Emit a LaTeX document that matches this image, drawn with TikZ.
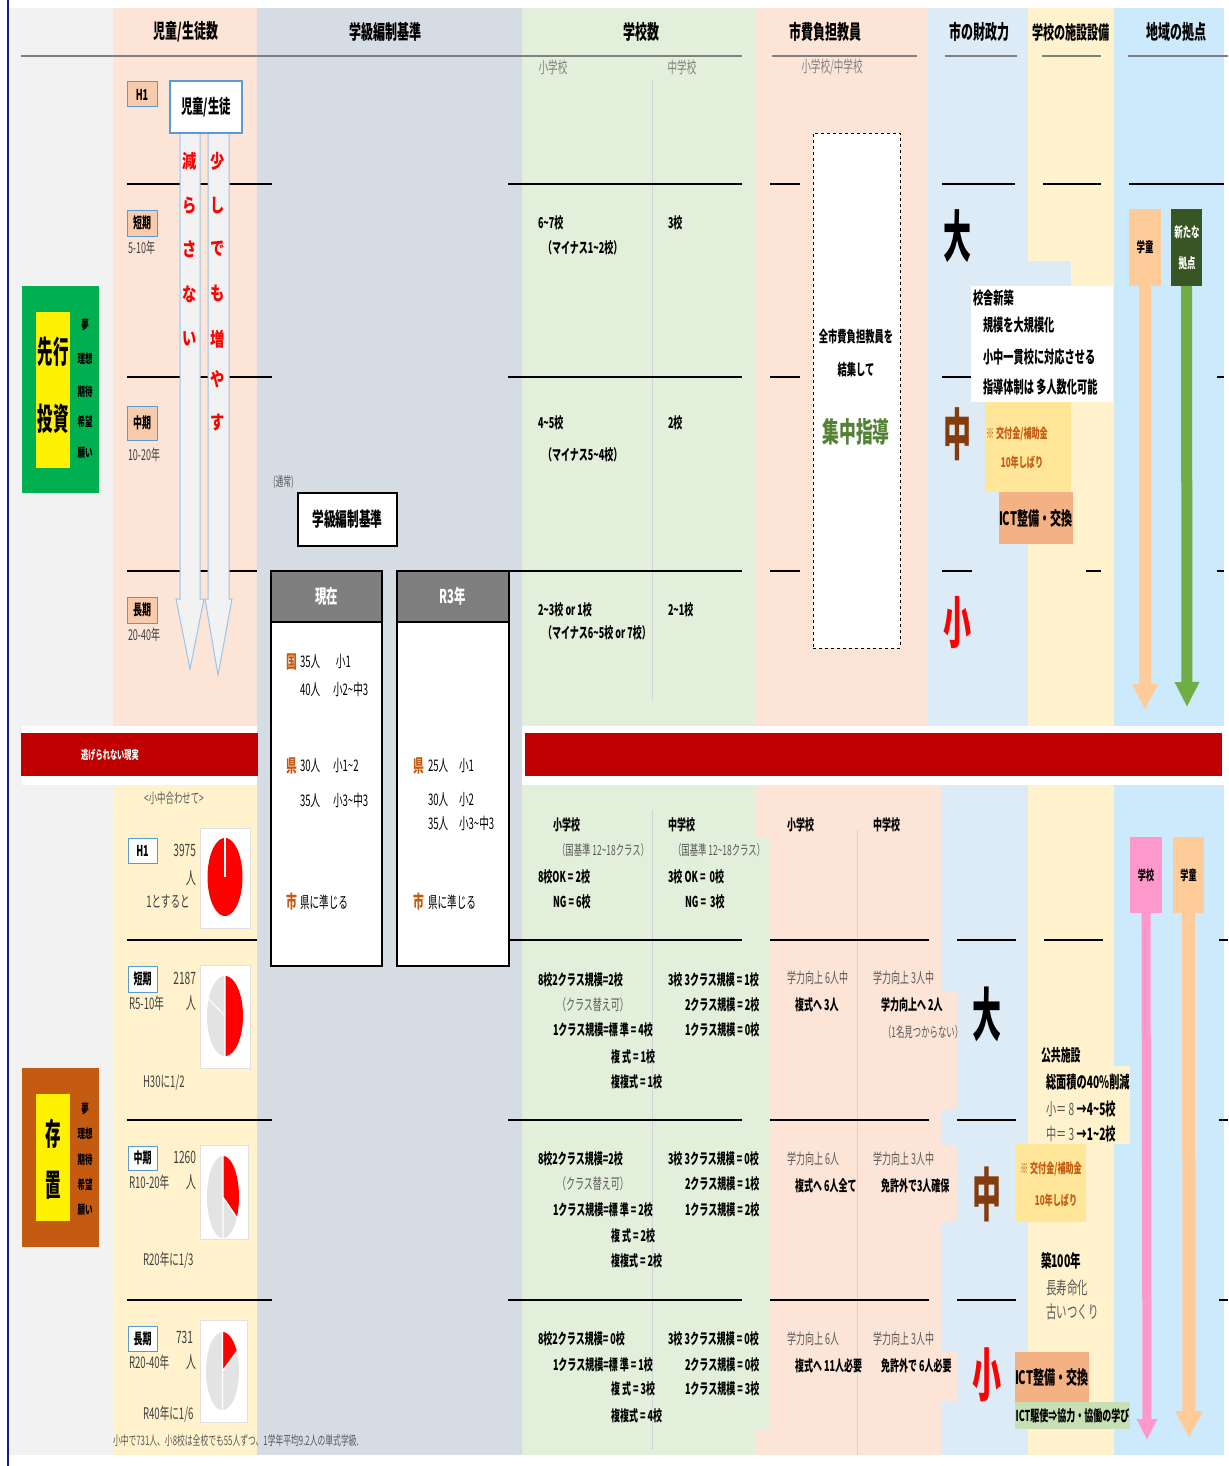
\documentclass[tikz,border=0pt]{standalone}
\usepackage{fontspec}
\setmainfont{Noto Sans CJK JP}[FakeStretch=0.6]
\newfontfamily\jpw{Noto Sans CJK JP}[FakeStretch=0.75]
\newfontfamily\jpn{Noto Sans CJK JP}[FakeStretch=0.5]
\usetikzlibrary{arrows.meta}
\newcommand\tld{\textasciitilde}
\definecolor{cgray}{HTML}{F2F2F2}
\definecolor{cpeach}{HTML}{FCE4D6}
\definecolor{cbg}{HTML}{D6DCE4}
\definecolor{cgreen}{HTML}{E2EFDA}
\definecolor{cblue}{HTML}{DDEBF7}
\definecolor{ccream}{HTML}{FFF2CC}
\definecolor{csky}{HTML}{CCEAFB}
\definecolor{cred}{HTML}{C00000}
\definecolor{cbrown}{HTML}{C55A11}
\definecolor{cdkbrown}{HTML}{843C0C}
\definecolor{cyel}{HTML}{FFE699}
\definecolor{cict}{HTML}{F4B183}
\definecolor{corange}{HTML}{FFCC99}
\definecolor{cdkgreen}{HTML}{375623}
\definecolor{cgrn}{HTML}{70AD47}
\definecolor{cbox}{HTML}{00B050}
\definecolor{cpink}{HTML}{FF99CC}
\definecolor{clgreen}{HTML}{C6E0B4}
\definecolor{clabel}{HTML}{F8CBAD}
\definecolor{cbord}{HTML}{5B9BD5}
\definecolor{carrowb}{HTML}{9DC3E6}
\definecolor{cshade}{HTML}{7F7F7F}
\definecolor{cpie}{HTML}{E3E3E3}
\definecolor{ctxt}{HTML}{595959}
\definecolor{cdark}{HTML}{404040}
\definecolor{csub}{HTML}{808080}
\definecolor{cjgreen}{HTML}{548235}
\definecolor{cline}{HTML}{808080}
\definecolor{cnavy}{HTML}{1A1A8C}
\definecolor{cvl}{HTML}{D0D4DA}
\newcommand\bx[7]{\node[#6,inner sep=0pt,outer sep=0pt,minimum width={#4-#2},minimum height={#5-#3},anchor=north west] (#1) at (#2,#3) {#7};}
\begin{document}
\begin{tikzpicture}[x=1pt,y=-1pt,
  xl/.style={anchor=west,inner sep=0pt,outer sep=0pt},
  xc/.style={anchor=center,inner sep=0pt,outer sep=0pt},
  xr/.style={anchor=east,inner sep=0pt,outer sep=0pt},
  fr/.style={font=\fontsize{#1}{#1}\selectfont},
  fb/.style={font=\fontsize{#1}{#1}\selectfont\bfseries},
  jw/.style={font=\jpw\fontsize{#1}{#1}\selectfont\bfseries},
  jn/.style={font=\jpn\fontsize{#1}{#1}\selectfont\bfseries},
  rowline/.style={line width=1.3pt,black},
  hdline/.style={line width=2.3pt,cline},
  lbl/.style={draw=cbord,line width=1pt,fill=clabel},
  lblw/.style={draw=cbord,line width=1pt,fill=white},
  piebox/.style={draw=black!12,line width=0.8pt,fill=white},
]
\useasboundingbox (0,0) rectangle (1228,1466);
% ---------- backgrounds ----------
\fill[cgray] (8,8) rectangle (113,1455);
\fill[cpeach] (113,8) rectangle (257,726);
\fill[ccream] (113,785) rectangle (257,1455);
\fill[cbg] (257,8) rectangle (522,1455);
\fill[cgreen] (522,8) rectangle (755,726);
\fill[cgreen] (522,785) rectangle (755,1455);
\fill[cpeach] (755,8) rectangle (928,726);
\fill[cpeach] (755,785) rectangle (942,1455);
\fill[cblue] (928,8) rectangle (1028,726);
\fill[cblue] (942,785) rectangle (1028,1455);
\fill[ccream] (1028,8) rectangle (1114,726);
\fill[ccream] (1028,785) rectangle (1114,1455);
\fill[csky] (1114,8) rectangle (1224,726);
\fill[csky] (1114,785) rectangle (1224,1455);
\fill[white] (22,726) rectangle (257,785);
\fill[cblue] (1028,261) rectangle (1071,286);
\fill[cgreen] (755,837) rectangle (769,1429);
\fill[cpeach] (900,991) rectangle (957,1109);
\fill[cpeach] (900,1146) rectangle (957,1221);
\fill[cpeach] (900,1352) rectangle (957,1402);
\draw[cnavy,line width=1.2pt] (8,0) -- (8,1466);
% red band
\bx{band1}{21}{733}{258}{776}{fill=cred}{}
\node[xc,fb=12,text=white] (band1t) at (110,755) {逃げられない現実};
\bx{band2}{525}{733}{1222}{776}{fill=cred}{}
% ---------- headers ----------
\node[xc,fb=20] (hd1) at (186,32) {児童/生徒数};
\node[xc,fb=20] (hd2) at (385,32) {学級編制基準};
\node[xc,fb=20] (hd3) at (641,32) {学校数};
\node[xc,fb=20] (hd4) at (825,32) {市費負担教員};
\node[xc,fb=20] (hd5) at (979,32) {市の財政力};
\node[xc,fb=18.5] (hd6) at (1071,32) {学校の施設設備};
\node[xc,fb=20] (hd7) at (1176,32) {地域の拠点};
\draw[hdline] (21,56) -- (742,56);
\draw[hdline] (772,56) -- (917,56);
\draw[hdline] (945,56) -- (1017,56);
\draw[hdline] (1042,56) -- (1101,56);
\draw[hdline] (1128,56) -- (1228,56);
\node[xc,fr=16,text=csub] (sh1) at (553,67) {小学校};
\node[xc,fr=16,text=csub] (sh2) at (682,67) {中学校};
\node[xc,fr=16,text=csub] (sh3) at (832,67) {小学校/中学校};
% vertical thin lines
\draw[cvl,line width=0.8pt] (652,80) -- (652,700);
\draw[cvl,line width=0.8pt] (652,810) -- (652,1450);
\draw[cvl,line width=0.8pt] (857,830) -- (857,1455);
% ---------- row lines ----------
\foreach \a/\b/\y in {127/272/184,508/742/184,770/800/184,942/1015/184,1043/1101/184,1129/1224/184,
  127/272/377,508/742/377,770/800/377,942/972/377,1217/1224/377,
  127/257/571,508/742/571,770/800/571,942/972/571,1086/1101/571,1217/1224/571,
  127/257/940,508/742/940,770/929/940,957/1016/940,1044/1103/940,1219/1228/940,
  127/272/1120,508/742/1120,770/929/1120,957/1016/1120,1219/1228/1120,
  127/272/1300,508/742/1300,770/929/1300,957/1016/1300,1219/1228/1300}
  {\draw[rowline] (\a,\y) -- (\b,\y);}
% ---------- left boxes ----------
\bx{sk}{22}{286}{99}{493}{fill=cbox}{}
\bx{sky}{36}{312}{70}{468}{fill=yellow}{}
\node[xc,jn=31] (sk1) at (53,352) {先行};
\node[xc,jn=31] (sk2) at (53,419) {投資};
\node[xc,fb=12.5] (sa1) at (85,325) {夢};
\node[xc,fb=12.5] (sa2) at (85,359) {理想};
\node[xc,fb=12.5] (sa3) at (85,392) {期待};
\node[xc,fb=12.5] (sa4) at (85,422) {希望};
\node[xc,fb=12.5] (sa5) at (85,453) {願い};
\bx{zc}{22}{1068}{99}{1247}{fill=cbrown}{}
\bx{zcy}{36}{1094}{70}{1221}{fill=yellow}{}
\node[xc,jn=31] (zc1) at (53,1134) {存};
\node[xc,jn=31] (zc2) at (53,1185) {置};
\node[xc,fb=12.5] (sb1) at (85,1109) {夢};
\node[xc,fb=12.5] (sb2) at (85,1134) {理想};
\node[xc,fb=12.5] (sb3) at (85,1160) {期待};
\node[xc,fb=12.5] (sb4) at (85,1185) {希望};
\node[xc,fb=12.5] (sb5) at (85,1210) {願い};
% ---------- top-left column ----------
\bx{lh1}{127}{82}{157}{107}{lbl,fb=15}{H1}
\bx{ls1}{127}{210}{157}{236}{lbl,fb=15}{短期}
\bx{lm1}{127}{406}{157}{440}{lbl,fb=15}{中期}
\bx{ll1}{127}{597}{157}{623}{lbl,fb=15}{長期}
\node[xl,fr=15,text=cdark] (yr1) at (128,248) {5-10年};
\node[xl,fr=15,text=cdark] (yr2) at (128,455) {10-20年};
\node[xl,fr=15,text=cdark] (yr3) at (128,635) {20-40年};
\filldraw[fill=cgray,draw=carrowb,line width=1pt] (180,133) -- (200,133) -- (200,599) -- (204,599) -- (190,669) -- (176,599) -- (180,599) -- cycle;
\filldraw[fill=cgray,draw=carrowb,line width=1pt] (208,133) -- (229,133) -- (229,599) -- (232,599) -- (218,675) -- (205,599) -- (208,599) -- cycle;
\bx{jd}{170}{81}{242}{133}{draw=cbord,line width=1.5pt,fill=white,fb=19}{児童/生徒}
\foreach \c/\y [count=\i] in {減/161,ら/206,さ/249,な/294,い/339}
  {\node[xc,jw=19,text=red] (ga\i) at (190,\y) {\c};}
\foreach \c/\y [count=\i] in {少/161,し/206,で/249,も/293,増/339,や/379,す/423}
  {\node[xc,jw=19,text=red] (gb\i) at (218,\y) {\c};}
% ---------- class standards ----------
\node[xl,fr=13,text=ctxt] (tsu) at (273,482) {(通常)};
\bx{kk}{298}{493}{397}{546}{draw=black,line width=1.2pt,fill=white,fb=19.5}{学級編制基準}
\bx{gz}{271}{571}{382}{966}{draw=black,line width=1.3pt,fill=white}{}
\bx{gzh}{271}{571}{382}{622}{draw=black,line width=1.3pt,fill=cshade,text=white,fb=19}{現在}
\bx{r3}{397}{571}{509}{966}{draw=black,line width=1.3pt,fill=white}{}
\bx{r3h}{397}{571}{509}{622}{draw=black,line width=1.3pt,fill=cshade,text=white,fb=19}{R3年}
\node[xc,fb=18,text=cbrown] (k1) at (292,662) {国};
\node[xl,fr=16] (k1a) at (300,662) {\makebox[36pt][l]{35人}小1};
\node[xl,fr=16] (k1b) at (300,689) {\makebox[33pt][l]{40人}小2\tld 中3};
\node[xc,fb=18,text=cbrown] (k2) at (292,766) {県};
\node[xl,fr=16] (k2a) at (300,766) {\makebox[33pt][l]{30人}小1\tld2};
\node[xl,fr=16] (k2b) at (300,800) {\makebox[33pt][l]{35人}小3\tld 中3};
\node[xc,fb=18,text=cbrown] (k3) at (292,902) {市};
\node[xl,fr=16] (k3a) at (300,902) {県に準じる};
\node[xc,fb=18,text=cbrown] (r1) at (419,766) {県};
\node[xl,fr=16] (r1a) at (428,766) {\makebox[31pt][l]{25人}小1};
\node[xl,fr=16] (r1b) at (428,800) {\makebox[31pt][l]{30人}小2};
\node[xl,fr=16] (r1c) at (428,823) {\makebox[31pt][l]{35人}小3\tld 中3};
\node[xc,fb=18,text=cbrown] (r2) at (419,902) {市};
\node[xl,fr=16] (r2a) at (428,902) {県に準じる};
% ---------- school counts top ----------
\node[xl,fb=15] (ga) at (538,223) {6\tld7校};
\node[xl,fb=15] (gb) at (543,248) {（マイナス1\tld2校）};
\node[xl,fb=15] (gc) at (668,223) {3校};
\node[xl,fb=15] (gd) at (538,423) {4\tld5校};
\node[xl,fb=15] (ge) at (543,455) {（マイナス5\tld4校）};
\node[xl,fb=15] (gf) at (668,423) {2校};
\node[xl,fb=15] (gg) at (538,610) {2\tld3校 or 1校};
\node[xl,fb=15] (gh) at (543,633) {（マイナス6\tld5校 or 7校）};
\node[xl,fb=15] (gi) at (668,610) {2\tld1校};
% ---------- teachers top ----------
\bx{tb}{813}{133}{900}{648}{draw=black,dashed,line width=0.8pt,fill=white}{}
\node[xc,fb=15.5] (tb1) at (856,337) {全市費負担教員を};
\node[xc,fb=15.5] (tb2) at (856,370) {結集して};
\node[xc,fb=28,text=cjgreen] (tb3) at (856,432) {集中指導};
% ---------- finance top ----------
\node[xc,jn=56] (dai1) at (957,236) {大};
\node[xc,jn=56,text=cdkbrown] (chu1) at (957,434) {中};
\node[xc,jn=56,text=red] (sho1) at (957,623) {小};
\bx{kn}{971}{286}{1113}{402}{fill=white}{}
\node[xl,fb=17] (kn1) at (973,298) {校舎新築};
\node[xl,fb=17] (kn2) at (983,325) {規模を大規模化};
\node[xl,fb=17] (kn3) at (983,357) {小中一貫校に対応させる};
\node[xl,fb=17] (kn4) at (983,387) {指導体制は 多人数化可能};
\bx{kf1}{985}{402}{1071}{492}{fill=cyel}{}
\node[xc,fb=13.5,text=cbrown] (kf1a) at (1017,434) {※ 交付金/補助金};
\node[xc,fb=13.5,text=cbrown] (kf1b) at (1022,462) {10年しばり};
\bx{ict1}{999}{492}{1071}{544}{fill=cict,fb=18.5}{ICT整備・交換}
% ---------- region arrows top ----------
\bx{gd1}{1129}{209}{1161}{286}{fill=corange,fb=14}{学童}
\bx{ak}{1171}{209}{1202}{286}{fill=cdkgreen}{}
\node[xc,fb=14,text=white] (ak1) at (1187,232) {新たな};
\node[xc,fb=14,text=white] (ak2) at (1187,263) {拠点};
\coordinate (gd1tip) at (1145,710);
\coordinate (aktip) at (1187,707);
\draw[line width=12pt,corange,-{Triangle[width=24pt,length=26pt]}] (gd1.south) -- (gd1tip);
\draw[line width=11pt,cgrn,-{Triangle[width=23pt,length=25pt]}] (ak.south) -- (aktip);
% ---------- bottom left (pies) ----------
\node[xc,fr=14,text=ctxt] (awase) at (174,798) {<小中合わせて>};
\bx{bh1}{128}{838}{157}{863}{lblw,fb=15}{H1}
\bx{bs1}{128}{966}{157}{992}{lblw,fb=15}{短期}
\bx{bm1}{128}{1146}{157}{1170}{lblw,fb=15}{中期}
\bx{bl1}{128}{1326}{157}{1351}{lblw,fb=15}{長期}
\node[xr,fr=17,text=cdark] (n1) at (196,850) {3975};
\node[xr,fr=17,text=cdark] (n1b) at (196,878) {人};
\node[xc,fr=16,text=cdark] (n1c) at (168,902) {1とすると};
\node[xr,fr=17,text=cdark] (n2) at (196,978) {2187};
\node[xl,fr=16,text=cdark] (n2a) at (129,1003) {R5-10年};
\node[xr,fr=17,text=cdark] (n2b) at (196,1003) {人};
\node[xl,fr=16,text=cdark] (n2c) at (143,1083) {H30に1/2};
\node[xr,fr=17,text=cdark] (n3) at (196,1157) {1260};
\node[xl,fr=16,text=cdark] (n3a) at (129,1182) {R10-20年};
\node[xr,fr=17,text=cdark] (n3b) at (196,1182) {人};
\node[xl,fr=16,text=cdark] (n3c) at (143,1260) {R20年に1/3};
\node[xr,fr=17,text=cdark] (n4) at (193,1337) {731};
\node[xl,fr=16,text=cdark] (n4a) at (129,1362) {R20-40年};
\node[xr,fr=17,text=cdark] (n4b) at (196,1362) {人};
\node[xl,fr=16,text=cdark] (n4c) at (143,1414) {R40年に1/6};
\bx{pb1}{200}{828}{250}{928}{piebox}{}
\bx{pb2}{200}{965}{250}{1068}{piebox}{}
\bx{pb3}{200}{1145}{248}{1239}{piebox}{}
\bx{pb4}{200}{1320}{247}{1422}{piebox}{}
% pie 1
\fill[red] plot[domain=0:360,samples=72] ({225+17.5*cos(\x)},{877+39*sin(\x)}) -- cycle;
\draw[white,line width=1.2pt] (225,877) -- (225,838);
% pie 2
\fill[red] (225,1016) -- plot[domain=-90:90,samples=40] ({225+18*cos(\x)},{1016+40*sin(\x)}) -- cycle;
\fill[cpie] (225,1016) -- plot[domain=90:270,samples=40] ({225+18*cos(\x)},{1016+40*sin(\x)}) -- cycle;
\draw[white,line width=1.2pt] (225,1016) -- (225,976) (225,1016) -- (225,1056) (225,1016) -- ({225+18*cos(-155)},{1016+40*sin(-155)});
% pie 3
\fill[red] (223,1197) -- plot[domain=-90:30,samples=40] ({223+16*cos(\x)},{1197+41*sin(\x)}) -- cycle;
\fill[cpie] (223,1197) -- plot[domain=30:270,samples=50] ({223+16*cos(\x)},{1197+41*sin(\x)}) -- cycle;
\draw[white,line width=1.2pt] (223,1197) -- (223,1156) (223,1197) -- (223,1238) (223,1197) -- ({223+16*cos(30)},{1197+41*sin(30)});
% pie 4
\fill[red] (222.5,1371) -- plot[domain=-90:-30,samples=30] ({222.5+16.5*cos(\x)},{1371+39*sin(\x)}) -- cycle;
\fill[cpie] (222.5,1371) -- plot[domain=-30:270,samples=60] ({222.5+16.5*cos(\x)},{1371+39*sin(\x)}) -- cycle;
\draw[white,line width=1.2pt] (222.5,1371) -- (222.5,1332) (222.5,1371) -- (222.5,1410) (222.5,1371) -- ({222.5+16.5*cos(-30)},{1371+39*sin(-30)});
\node[xl,fr=13,text=ctxt] (foot) at (113,1441) {小中で731人、小8校は全校でも55人ずつ、1学年平均9.2人の単式学級.};
% ---------- school counts bottom ----------
\node[xl,fb=15] (s0a) at (553,825) {小学校};
\node[xl,fb=15] (s0b) at (668,825) {中学校};
\node[xl,fr=14,text=ctxt] (s0c) at (557,850) {（国基準 12\tld18クラス）};
\node[xl,fr=14,text=ctxt] (s0d) at (673,850) {（国基準 12\tld18クラス）};
\node[xl,fb=15] (s0e) at (538,877) {8校OK = 2校};
\node[xl,fb=15] (s0f) at (553,902) {NG = 6校};
\node[xl,fb=15] (s0g) at (668,877) {3校 OK =\ \ 0校};
\node[xl,fb=15] (s0h) at (685,902) {NG =\ \ 3校};
% row 2
\node[xl,fb=15] (s1a) at (538,980) {8校2クラス規模=2校};
\node[xl,fr=15,text=ctxt] (s1b) at (557,1005) {（クラス替え可）};
\node[xl,fb=15] (s1c) at (553,1030) {1クラス規模=標 準 = 4校};
\node[xl,fb=15] (s1d) at (611,1057) {複 式 = 1校};
\node[xl,fb=15] (s1e) at (611,1082) {複複式 = 1校};
\node[xl,fb=15] (s1f) at (668,980) {3校 3クラス規模 = 1校};
\node[xl,fb=15] (s1g) at (685,1005) {2クラス規模 = 2校};
\node[xl,fb=15] (s1h) at (685,1030) {1クラス規模 = 0校};
% row 3
\node[xl,fb=15] (s2a) at (538,1159) {8校2クラス規模=2校};
\node[xl,fr=15,text=ctxt] (s2b) at (557,1184) {（クラス替え可）};
\node[xl,fb=15] (s2c) at (553,1210) {1クラス規模=標 準 = 2校};
\node[xl,fb=15] (s2d) at (611,1236) {複 式 = 2校};
\node[xl,fb=15] (s2e) at (611,1261) {複複式 = 2校};
\node[xl,fb=15] (s2f) at (668,1159) {3校 3クラス規模 = 0校};
\node[xl,fb=15] (s2g) at (685,1184) {2クラス規模 = 1校};
\node[xl,fb=15] (s2h) at (685,1210) {1クラス規模 = 2校};
% row 4
\node[xl,fb=15] (s3a) at (538,1339) {8校2クラス規模= 0校};
\node[xl,fb=15] (s3c) at (553,1365) {1クラス規模=標 準 = 1校};
\node[xl,fb=15] (s3d) at (611,1389) {複 式 = 3校};
\node[xl,fb=15] (s3e) at (611,1416) {複複式 = 4校};
\node[xl,fb=15] (s3f) at (668,1339) {3校 3クラス規模 = 0校};
\node[xl,fb=15] (s3g) at (685,1365) {2クラス規模 = 0校};
\node[xl,fb=15] (s3h) at (685,1389) {1クラス規模 = 3校};
% ---------- teachers bottom ----------
\node[xl,fb=15] (t0a) at (787,825) {小学校};
\node[xl,fb=15] (t0b) at (873,825) {中学校};
\node[xl,fr=15,text=ctxt] (t1a) at (787,978) {学力向上 6人中};
\node[xl,fb=15] (t1b) at (795,1005) {複式へ 3人};
\node[xl,fr=15,text=ctxt] (t1c) at (873,978) {学力向上 3人中};
\node[xl,fb=15] (t1d) at (881,1005) {学力向上へ 2人};
\node[xl,fr=14,text=ctxt] (t1e) at (883,1032) {（1名見つからない）};
\node[xl,fr=15,text=ctxt] (t2a) at (787,1159) {学力向上 6人};
\node[xl,fb=15] (t2b) at (795,1186) {複式へ 6人全て};
\node[xl,fr=15,text=ctxt] (t2c) at (873,1159) {学力向上 3人中};
\node[xl,fb=15] (t2d) at (881,1186) {免許外で3人確保};
\node[xl,fr=15,text=ctxt] (t3a) at (787,1339) {学力向上 6人};
\node[xl,fb=15] (t3b) at (795,1366) {複式へ 11人必要};
\node[xl,fr=15,text=ctxt] (t3c) at (873,1339) {学力向上 3人中};
\node[xl,fb=15] (t3d) at (881,1366) {免許外で 6人必要};
% ---------- finance / facilities bottom ----------
\node[xc,jn=58] (dai2) at (987,1014) {大};
\node[xc,jn=58,text=cdkbrown] (chu2) at (987,1194) {中};
\node[xc,jn=58,text=red] (sho2) at (987,1375) {小};
\bx{kk2}{1038}{1066}{1130}{1144}{fill=ccream}{}
\node[xl,fb=16.5] (kk2a) at (1041,1055) {公共施設};
\node[xl,fb=17] (kk2b) at (1046,1082) {総面積の40\%削減};
\node[xl,fb=17] (kk2c) at (1046,1109) {{\mdseries\color{ctxt}小＝ 8 }→4\tld5校};
\node[xl,fb=17] (kk2d) at (1046,1134) {{\mdseries\color{ctxt}中＝ 3 }→1\tld2校};
\bx{kf2}{1015}{1144}{1086}{1222}{fill=cyel}{}
\node[xc,fb=13.5,text=cbrown] (kf2a) at (1051,1169) {※ 交付金/補助金};
\node[xc,fb=13.5,text=cbrown] (kf2b) at (1056,1200) {10年しばり};
\node[xl,fb=17.5] (ck1) at (1041,1261) {築100年};
\node[xl,fr=17.5,text=ctxt] (ck2) at (1046,1288) {長寿命化};
\node[xl,fr=17.5,text=ctxt] (ck3) at (1046,1312) {古いつくり};
\bx{ict2}{1015}{1352}{1086}{1402}{fill=cict,fb=18.5}{ICT整備・交換}
\bx{ictg}{1015}{1402}{1130}{1429}{fill=clgreen,fb=15}{ICT駆使⇒協力・協働の学び}
% ---------- region arrows bottom ----------
\bx{gk}{1130}{837}{1162}{913}{fill=cpink,fb=13.5}{学校}
\bx{gd2}{1173}{837}{1204}{913}{fill=corange,fb=13.5}{学童}
\coordinate (gktip) at (1147,1440);
\coordinate (gd2tip) at (1189,1438);
\draw[line width=9pt,cpink,-{Triangle[width=19pt,length=21pt]}] (gk.south) -- (gktip);
\draw[line width=13pt,corange,-{Triangle[width=26pt,length=27pt]}] (gd2.south) -- (gd2tip);
\end{tikzpicture}
\end{document}
